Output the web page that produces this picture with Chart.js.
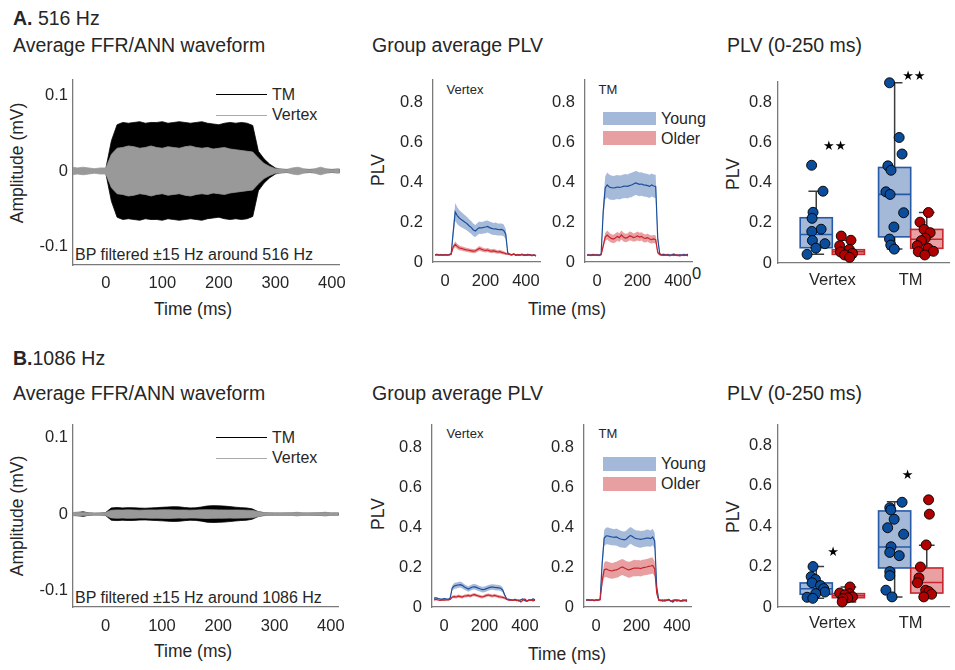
<!DOCTYPE html>
<html lang="en">
<head>
<meta charset="utf-8">
<title>FFR/ANN waveforms and phase-locking value</title>
<script src="https://cdn.jsdelivr.net/npm/chart.js@4.4.1/dist/chart.umd.min.js"></script>
<style>
  html, body { margin: 0; padding: 0; background: #fff; }
  body { position: relative; width: 955px; height: 670px; overflow: hidden;
         font-family: "Liberation Sans", Arial, sans-serif; color: #262626; }
  .txt { position: absolute; white-space: nowrap; line-height: 1; }
  .ctr { transform: translate(-50%, -50%); }
  .rot { transform: translate(-50%, -50%) rotate(-90deg); }
  .sw { position: absolute; }
  canvas { position: absolute; }
</style>
</head>
<body>
<!-- Row A: 516 Hz -->
<div class="txt" style="left:13px;top:9px;font-size:19.5px"><b>A.</b> 516 Hz</div>
<div class="txt" style="left:13px;top:36px;font-size:19.5px">Average FFR/ANN waveform</div>
<div class="txt" style="left:372px;top:36px;font-size:19.5px">Group average PLV</div>
<div class="txt" style="left:727px;top:36px;font-size:19.5px">PLV (0-250 ms)</div>
<div class="txt rot" style="left:18px;top:163px;font-size:17.5px">Amplitude (mV)</div>
<div class="txt ctr" style="left:193px;top:310px;font-size:17.5px">Time (ms)</div>
<div class="txt rot" style="left:379px;top:170px;font-size:17.5px">PLV</div>
<div class="txt ctr" style="left:567px;top:310px;font-size:17.5px">Time (ms)</div>
<div class="txt rot" style="left:734px;top:174px;font-size:17.5px">PLV</div>
<div class="txt ctr" style="left:465px;top:89px;font-size:13px">Vertex</div>
<div class="txt ctr" style="left:608px;top:89px;font-size:13px">TM</div>
<div class="txt" style="left:692px;top:265px;font-size:16.5px">0</div>
<div class="txt" style="left:75px;top:247px;font-size:16px">BP filtered ±15 Hz around 516 Hz</div>
<div class="sw" style="left:216px;top:94px;width:51px;height:1.4px;background:#000"></div>
<div class="txt" style="left:272px;top:87px;font-size:16px">TM</div>
<div class="sw" style="left:216px;top:114.5px;width:51px;height:1.2px;background:#aaa"></div>
<div class="txt" style="left:272px;top:107px;font-size:16px">Vertex</div>
<div class="sw" style="left:603px;top:112px;width:53px;height:13px;background:#a4b8d9"></div>
<div class="txt" style="left:661px;top:111px;font-size:16px">Young</div>
<div class="sw" style="left:603px;top:131px;width:53px;height:14px;background:#e89fa1"></div>
<div class="txt" style="left:661px;top:131px;font-size:16px">Older</div>

<!-- Row B: 1086 Hz -->
<div class="txt" style="left:13px;top:349px;font-size:19.5px"><b>B.</b>1086 Hz</div>
<div class="txt" style="left:13px;top:384px;font-size:19.5px">Average FFR/ANN waveform</div>
<div class="txt" style="left:372px;top:384px;font-size:19.5px">Group average PLV</div>
<div class="txt" style="left:727px;top:384px;font-size:19.5px">PLV (0-250 ms)</div>
<div class="txt rot" style="left:18px;top:516px;font-size:17.5px">Amplitude (mV)</div>
<div class="txt ctr" style="left:193px;top:652px;font-size:17.5px">Time (ms)</div>
<div class="txt rot" style="left:379px;top:514px;font-size:17.5px">PLV</div>
<div class="txt ctr" style="left:567px;top:655px;font-size:17.5px">Time (ms)</div>
<div class="txt rot" style="left:734px;top:517px;font-size:17.5px">PLV</div>
<div class="txt ctr" style="left:465px;top:433px;font-size:13px">Vertex</div>
<div class="txt ctr" style="left:608px;top:433px;font-size:13px">TM</div>
<div class="txt" style="left:75px;top:590px;font-size:16px">BP filtered ±15 Hz around 1086 Hz</div>
<div class="sw" style="left:216px;top:437px;width:51px;height:1.4px;background:#000"></div>
<div class="txt" style="left:272px;top:430px;font-size:16px">TM</div>
<div class="sw" style="left:216px;top:457.5px;width:51px;height:1.2px;background:#aaa"></div>
<div class="txt" style="left:272px;top:450px;font-size:16px">Vertex</div>
<div class="sw" style="left:603px;top:457px;width:53px;height:14px;background:#a4b8d9"></div>
<div class="txt" style="left:661px;top:456px;font-size:16px">Young</div>
<div class="sw" style="left:603px;top:477px;width:53px;height:14px;background:#e89fa1"></div>
<div class="txt" style="left:661px;top:476px;font-size:16px">Older</div>

<script>
// ---------- waveform envelopes (mV), sampled every 10 ms ----------
const waveTime = [-60,-50,-40,-30,-20,-10,0,10,20,30,40,50,60,70,80,90,100,110,120,130,140,150,160,170,180,190,200,210,220,230,240,250,260,270,280,290,300,310,320,330,340,350,360,370,380,390,400,410,420];
const tmEnvA = [0.002,0.002,0.002,0.002,0.002,0.002,0.003,0.040,0.061,
  0.064,0.063,0.064,0.065,0.063,0.064,0.064,0.065,0.063,0.064,0.065,0.064,0.063,0.064,0.065,0.063,0.062,0.061,0.063,0.064,0.063,0.064,0.063,
  0.060,0.026,0.016,0.009,0.004,
  0.002,0.002,0.002,0.002,0.002,0.002,0.002,0.002,0.002,0.002,0.002,0.002];
const vxEnvA = [0.005,0.004,0.005,0.004,0.003,0.004,0.004,0.022,0.030,
  0.031,0.033,0.032,0.030,0.031,0.033,0.031,0.030,0.032,0.031,0.030,0.032,0.033,0.031,0.030,0.031,0.029,0.030,0.031,0.029,0.028,0.027,0.026,
  0.025,0.017,0.010,0.006,0.003,
  0.003,0.002,0.004,0.005,0.003,0.002,0.003,0.005,0.003,0.002,0.003,0.002];
const tmEnvB = [0.001,0.002,0.003,0.0015,0.001,0.001,0.002,0.0080,0.0085,
  0.0080,0.0084,0.0082,0.0078,0.0076,0.0080,0.0084,0.0088,0.0092,0.0096,0.0094,0.0086,0.0080,0.0082,0.0092,0.0105,0.0110,0.0108,0.0104,0.0098,0.0090,0.0084,0.0080,
  0.0068,0.0035,0.0018,0.0013,0.0012,
  0.0012,0.0012,0.0013,0.0016,0.0012,0.0012,0.0013,0.0014,0.0018,0.0012,0.0012,0.0012];
const vxEnvB = [0.0018,0.0026,0.0022,0.0016,0.0014,0.0016,0.0020,0.0050,0.0054,
  0.0052,0.0055,0.0053,0.0051,0.0052,0.0054,0.0053,0.0055,0.0056,0.0054,0.0052,0.0053,0.0051,0.0052,0.0055,0.0056,0.0055,0.0054,0.0053,0.0052,0.0053,0.0052,0.0051,
  0.0048,0.0034,0.0022,0.0016,0.0015,
  0.0014,0.0016,0.0017,0.0024,0.0015,0.0013,0.0015,0.0017,0.0025,0.0015,0.0016,0.0014];

// ---------- group-average PLV traces (mean and s.e.m.), every 10 ms ----------
const plvTime = [-50,-40,-30,-20,-10,0,10,20,30,40,50,60,70,80,90,100,110,120,130,140,150,160,170,180,190,200,210,220,230,240,250,260,270,280,290,300,310,320,330,340,350,360,370,380,390,400,410,420,430,440,450];

const vxYoungPlvA = [0.036,0.038,0.035,0.037,0.034,0.036,0.035,0.037,0.040,
  0.150,0.250,0.232,0.220,0.212,0.205,0.198,0.190,0.180,0.172,0.160,0.155,0.165,0.172,0.170,0.173,0.175,0.178,0.172,0.168,0.165,0.166,0.163,0.162,0.163,0.158,0.140,
  0.045,0.038,0.036,0.040,0.035,0.037,0.034,0.038,0.036,0.033,0.038,0.035,0.032,0.036,0.030];
const vxYoungSemA = [0.004,0.004,0.004,0.004,0.004,0.004,0.004,0.004,0.005,
  0.030,0.045,0.042,0.040,0.038,0.036,0.035,0.034,0.033,0.032,0.031,0.030,0.030,0.031,0.030,0.030,0.031,0.030,0.030,0.031,0.030,0.031,0.030,0.030,0.030,0.029,0.025,
  0.006,0.004,0.004,0.004,0.004,0.004,0.004,0.004,0.004,0.004,0.004,0.004,0.004,0.004,0.004];
const vxOlderPlvA = [0.035,0.037,0.034,0.036,0.035,0.037,0.034,0.036,0.040,
  0.075,0.088,0.078,0.070,0.068,0.065,0.062,0.060,0.058,0.056,0.054,0.055,0.062,0.068,0.064,0.060,0.058,0.060,0.056,0.054,0.056,0.053,0.050,0.052,0.048,0.046,0.042,
  0.040,0.038,0.036,0.039,0.034,0.037,0.035,0.038,0.033,0.036,0.034,0.037,0.033,0.035,0.032];
const vxOlderSemA = [0.004,0.004,0.004,0.004,0.004,0.004,0.004,0.004,0.005,
  0.010,0.014,0.013,0.012,0.011,0.011,0.010,0.010,0.010,0.010,0.010,0.010,0.011,0.012,0.011,0.010,0.010,0.010,0.010,0.010,0.010,0.010,0.009,0.009,0.009,0.008,0.007,
  0.005,0.004,0.004,0.004,0.004,0.004,0.004,0.004,0.004,0.004,0.004,0.004,0.004,0.004,0.004];
const tmYoungPlvA = [0.035,0.036,0.034,0.037,0.035,0.036,0.034,0.040,0.250,0.370,
  0.385,0.375,0.372,0.370,0.372,0.375,0.373,0.375,0.378,0.380,0.378,0.382,0.385,0.390,0.395,0.392,0.388,0.390,0.386,0.384,0.382,0.378,0.385,0.380,0.378,
  0.120,
  0.040,0.036,0.038,0.035,0.037,0.034,0.036,0.039,0.035,0.033,0.036,0.034,0.037,0.035,0.038];
const tmYoungSemA = [0.005,0.005,0.005,0.005,0.005,0.005,0.005,0.005,0.040,0.058,
  0.062,0.062,0.061,0.060,0.060,0.060,0.060,0.059,0.059,0.060,0.060,0.060,0.061,0.060,0.060,0.060,0.059,0.059,0.058,0.058,0.058,0.058,0.058,0.058,0.058,
  0.020,
  0.006,0.005,0.005,0.005,0.005,0.005,0.005,0.005,0.005,0.005,0.005,0.005,0.005,0.005,0.005];
const tmOlderPlvA = [0.034,0.035,0.033,0.036,0.034,0.035,0.033,0.036,0.080,0.125,
  0.135,0.125,0.118,0.115,0.120,0.128,0.122,0.135,0.125,0.120,0.122,0.130,0.128,0.122,0.125,0.130,0.125,0.128,0.120,0.118,0.122,0.115,0.112,0.115,0.112,
  0.048,
  0.037,0.035,0.033,0.036,0.034,0.032,0.035,0.033,0.036,0.034,0.031,0.035,0.033,0.034,0.032];
const tmOlderSemA = [0.004,0.004,0.004,0.004,0.004,0.004,0.004,0.004,0.012,0.020,
  0.022,0.022,0.021,0.021,0.022,0.022,0.022,0.023,0.022,0.021,0.021,0.022,0.022,0.021,0.021,0.022,0.021,0.021,0.021,0.020,0.020,0.020,0.020,0.020,0.020,
  0.008,
  0.004,0.004,0.004,0.004,0.004,0.004,0.004,0.004,0.004,0.004,0.004,0.004,0.004,0.004,0.004];

const vxYoungPlvB = [0.044,0.046,0.042,0.040,0.038,0.042,0.040,0.038,0.045,
  0.095,0.105,0.108,0.110,0.112,0.108,0.100,0.095,0.090,0.095,0.100,0.101,0.098,0.094,0.090,0.087,0.088,0.092,0.096,0.099,0.100,0.098,0.097,0.096,0.094,0.085,0.060,
  0.040,0.038,0.036,0.034,0.038,0.035,0.030,0.036,0.040,0.032,0.030,0.036,0.034,0.040,0.036];
const vxYoungSemB = [0.004,0.004,0.004,0.004,0.004,0.004,0.004,0.004,0.004,
  0.012,0.015,0.015,0.015,0.015,0.015,0.014,0.014,0.014,0.014,0.014,0.014,0.014,0.014,0.014,0.014,0.014,0.014,0.014,0.014,0.014,0.014,0.014,0.014,0.014,0.013,0.008,
  0.004,0.004,0.004,0.004,0.004,0.004,0.004,0.004,0.004,0.004,0.004,0.004,0.004,0.004,0.004];
const vxOlderPlvB = [0.036,0.038,0.035,0.033,0.036,0.034,0.036,0.035,0.038,
  0.050,0.052,0.050,0.054,0.052,0.050,0.055,0.056,0.058,0.055,0.060,0.062,0.058,0.055,0.052,0.050,0.054,0.058,0.060,0.057,0.055,0.058,0.055,0.052,0.050,0.048,0.045,
  0.038,0.034,0.036,0.033,0.035,0.032,0.035,0.025,0.034,0.040,0.030,0.033,0.036,0.031,0.034];
const vxOlderSemB = [0.003,0.003,0.003,0.003,0.003,0.003,0.003,0.003,0.003,
  0.006,0.008,0.008,0.008,0.008,0.008,0.008,0.008,0.008,0.008,0.008,0.008,0.008,0.008,0.008,0.008,0.008,0.008,0.008,0.008,0.008,0.008,0.008,0.008,0.008,0.007,0.006,
  0.003,0.003,0.003,0.003,0.003,0.003,0.003,0.003,0.003,0.003,0.003,0.003,0.003,0.003,0.003];
const tmYoungPlvB = [0.034,0.036,0.033,0.035,0.032,0.036,0.034,0.040,0.220,0.345,
  0.356,0.355,0.352,0.350,0.348,0.350,0.345,0.340,0.338,0.336,0.340,0.350,0.358,0.352,0.345,0.342,0.340,0.338,0.340,0.342,0.345,0.344,0.342,0.350,0.330,
  0.100,
  0.036,0.034,0.030,0.035,0.033,0.038,0.030,0.025,0.034,0.036,0.032,0.030,0.035,0.033,0.036];
const tmYoungSemB = [0.004,0.004,0.004,0.004,0.004,0.004,0.004,0.004,0.030,0.040,
  0.042,0.042,0.042,0.041,0.041,0.042,0.042,0.042,0.041,0.041,0.042,0.042,0.042,0.042,0.041,0.041,0.042,0.042,0.041,0.041,0.042,0.042,0.041,0.041,0.040,
  0.015,
  0.004,0.004,0.004,0.004,0.004,0.004,0.004,0.004,0.004,0.004,0.004,0.004,0.004,0.004,0.004];
const tmOlderPlvB = [0.035,0.037,0.034,0.036,0.033,0.035,0.034,0.036,0.130,0.185,
  0.190,0.185,0.182,0.180,0.184,0.186,0.190,0.196,0.200,0.195,0.190,0.186,0.188,0.192,0.195,0.194,0.195,0.192,0.196,0.198,0.200,0.203,0.205,0.208,0.190,
  0.070,
  0.034,0.032,0.035,0.030,0.034,0.036,0.028,0.033,0.035,0.030,0.034,0.031,0.030,0.033,0.028];
const tmOlderSemB = [0.004,0.004,0.004,0.004,0.004,0.004,0.004,0.004,0.025,0.038,
  0.040,0.040,0.040,0.039,0.040,0.040,0.041,0.040,0.040,0.040,0.039,0.040,0.040,0.040,0.041,0.040,0.040,0.040,0.040,0.039,0.040,0.040,0.041,0.040,0.038,
  0.012,
  0.004,0.004,0.004,0.004,0.004,0.004,0.004,0.004,0.004,0.004,0.004,0.004,0.004,0.004,0.004];

// ---------- individual PLV (0-250 ms), jitter offsets, box stats [low, q1, median, q3, high] ----------
const vxYoungA = [0.486,0.357,0.252,0.222,0.168,0.157,0.112,0.096,0.074,0.043];
const vxYoungJitA = [-0.059,0.086,-0.041,-0.053,0.062,-0.057,-0.049,0.111,-0.004,-0.117];
const vxYoungBoxA = [0.043,0.076,0.142,0.225,0.357];
const vxOlderA = [0.134,0.113,0.086,0.067,0.055,0.048,0.040,0.028];
const vxOlderJitA = [-0.091,0.032,-0.111,0.012,-0.101,0.053,-0.049,0.016];
const vxOlderBoxA = [0.028,0.043,0.056,0.066,0.113];
const tmYoungA = [0.896,0.624,0.542,0.483,0.461,0.354,0.341,0.250,0.179,0.119,0.089,0.069];
const tmYoungJitA = [-0.065,0.058,0.095,-0.086,-0.046,-0.111,-0.058,0.115,-0.009,-0.065,-0.049,-0.004];
const tmYoungBoxA = [0.069,0.130,0.341,0.475,0.896];
const tmOlderA = [0.251,0.203,0.167,0.151,0.123,0.111,0.086,0.073,0.056,0.058,0.040];
const tmOlderJitA = [0.021,-0.086,-0.034,0.043,-0.018,-0.069,-0.121,0.018,-0.108,0.085,-0.025];
const tmOlderBoxA = [0.040,0.073,0.118,0.167,0.251];

const vxYoungB = [0.200,0.150,0.136,0.120,0.106,0.091,0.074,0.066,0.048,0.043];
const vxYoungJitB = [-0.041,-0.065,-0.010,-0.053,0.054,0.095,0.111,-0.007,-0.117,-0.044];
const vxYoungBoxB = [0.043,0.063,0.090,0.119,0.200];
const vxOlderB = [0.099,0.069,0.066,0.060,0.050,0.045,0.041,0.025];
const vxOlderJitB = [0.020,-0.111,0.012,-0.046,0.053,-0.009,-0.070,-0.079];
const vxOlderBoxB = [0.025,0.046,0.056,0.066,0.099];
const tmYoungB = [0.518,0.491,0.480,0.434,0.392,0.360,0.298,0.270,0.254,0.175,0.155,0.083,0.050];
const tmYoungJitB = [0.095,-0.062,-0.049,-0.006,-0.089,0.115,-0.046,-0.062,0.059,-0.062,-0.062,-0.111,-0.033];
const tmYoungBoxB = [0.050,0.193,0.297,0.475,0.520];
const tmOlderB = [0.530,0.459,0.307,0.198,0.144,0.120,0.083,0.076,0.063,0.050];
const tmOlderJitB = [0.023,0.033,-0.007,-0.081,-0.100,-0.118,-0.014,0.027,0.062,-0.038];
const tmOlderBoxB = [0.050,0.069,0.121,0.193,0.305];

// significance markers: [category, height]
const sigTextA = ['★★','★★'];
const sigPosA = [[1.03,0.577],[2.04,0.925]];
const sigTextB = ['★','★'];
const sigPosB = [[1.01,0.268],[1.96,0.650]];

// ---------- tick labels ----------
const ampTicks = [-0.1,0,0.1];
const ampTickLabels = ['-0.1','0','0.1'];
const waveTimeTicks = [0,100,200,300,400];
const waveTimeLabels = ['0','100','200','300','400'];
const plvTicks = [0,0.2,0.4,0.6,0.8];
const plvTickLabels = ['0','0.2','0.4','0.6','0.8'];
const plvTimeTicks = [0,200,400];
const plvTimeLabels = ['0','200','400'];
const siteTicks = [1,2];
const siteLabels = ['Vertex','TM'];

// ---------- styling ----------
const AXIS_COLOR = '#7a7a7a';
const TICK_COLOR = '#262626';
const TICK_SIZE = 16.5;
const BLUE_LINE = '#1b4f9c', BLUE_BAND = 'rgba(112,144,196,0.62)';
const RED_LINE = '#c8232b', RED_BAND = 'rgba(214,80,86,0.55)';
const BOX_YOUNG = {fill: '#a4b8d8', stroke: '#2659a6', dot: '#0b4d9b'};
const BOX_OLDER = {fill: '#e8a0a2', stroke: '#c8262d', dot: '#b10000'};
const GROUP_OFFSET = 0.205, BOX_W = 0.41, CAP_W = 0.2;

Chart.defaults.font.family = '"Liberation Sans", Arial, sans-serif';
Chart.defaults.color = TICK_COLOR;
Chart.defaults.elements.point.radius = 0;
Chart.defaults.elements.line.tension = 0;

function addCanvas(area, pad) {
  const c = document.createElement('canvas');
  const w = area.r - area.l + pad.l + pad.r;
  const h = area.b - area.t + pad.t + pad.b;
  c.width = w; c.height = h;
  c.style.width = w + 'px'; c.style.height = h + 'px';
  c.style.left = (area.l - pad.l) + 'px';
  c.style.top = (area.t - pad.t) + 'px';
  document.body.appendChild(c);
  return c;
}

function axis(which, s, size) {
  return {
    type: 'linear',
    position: which === 'x' ? 'bottom' : 'left',
    min: s.min, max: s.max,
    grid: {display: false, drawTicks: false},
    border: {display: true, color: AXIS_COLOR, width: 1.3},
    ticks: {padding: s.pad, font: {size: TICK_SIZE}, color: TICK_COLOR, autoSkip: false,
            maxRotation: 0, callback: (v, i) => s.labels[i]},
    afterBuildTicks: sc => { sc.ticks = s.values.map(value => ({value})); },
    afterFit: sc => { if (which === 'x') sc.height = size; else sc.width = size; }
  };
}

function makeChart(area, pad, type, datasets, sx, sy, plugins) {
  return new Chart(addCanvas(area, pad), {
    type,
    data: {datasets},
    options: {
      responsive: false, animation: false, devicePixelRatio: 1, events: [],
      layout: {padding: {top: pad.t, right: pad.r, left: 0, bottom: 0}},
      plugins: {legend: {display: false}, tooltip: {enabled: false}},
      scales: {x: axis('x', sx, pad.b), y: axis('y', sy, pad.l)}
    },
    plugins: plugins || []
  });
}

// ---------- waveform panels ----------
function envelope(t, amp, color, order) {
  return [
    {data: t.map((x, i) => ({x, y: amp[i]})), fill: '+1', backgroundColor: color,
     borderColor: color, borderWidth: 0.8, order},
    {data: t.map((x, i) => ({x, y: -amp[i]})), fill: false,
     borderColor: color, borderWidth: 0.8, order}
  ];
}
function waveform(area, tmEnv, vxEnv, yMin, yMax, xPad) {
  makeChart(area, {l: 73, t: 20, r: 12, b: 32}, 'line',
    [...envelope(waveTime, vxEnv, '#999999', 0), ...envelope(waveTime, tmEnv, '#000000', 1)],
    {min: -58, max: 414, values: waveTimeTicks, labels: waveTimeLabels, pad: xPad},
    {min: yMin, max: yMax, values: ampTicks, labels: ampTickLabels, pad: 5});
}
waveform({l: 73, t: 80, r: 343, b: 265}, tmEnvA, vxEnvA, -0.124, 0.12, 9);
waveform({l: 73, t: 425, r: 343, b: 607}, tmEnvB, vxEnvB, -0.121, 0.116, 10);

// ---------- group-average PLV panels ----------
function plvSets(yMean, ySem, oMean, oSem) {
  const pts = (m, s, k) => plvTime.map((x, i) => ({x, y: m[i] + k * (s ? s[i] : 0)}));
  return [
    {data: pts(oMean, null, 0), borderColor: RED_LINE, borderWidth: 1.2, fill: false, order: 0},
    {data: pts(yMean, null, 0), borderColor: BLUE_LINE, borderWidth: 1.2, fill: false, order: 0},
    {data: pts(oMean, oSem, 1), borderWidth: 0, fill: '+1', backgroundColor: RED_BAND, order: 1},
    {data: pts(oMean, oSem, -1), borderWidth: 0, fill: false, order: 1},
    {data: pts(yMean, ySem, 1), borderWidth: 0, fill: '+1', backgroundColor: BLUE_BAND, order: 1},
    {data: pts(yMean, ySem, -1), borderWidth: 0, fill: false, order: 1}
  ];
}
function plvPanel(area, sets, xPad) {
  makeChart(area, {l: 45, t: 20, r: 10, b: 32}, 'line', sets,
    {min: -60, max: 470, values: plvTimeTicks, labels: plvTimeLabels, pad: xPad},
    {min: 0, max: 0.91, values: plvTicks, labels: plvTickLabels, pad: 10});
}
plvPanel({l: 433, t: 80, r: 541, b: 262}, plvSets(vxYoungPlvA, vxYoungSemA, vxOlderPlvA, vxOlderSemA), 10);
plvPanel({l: 585, t: 80, r: 693, b: 262}, plvSets(tmYoungPlvA, tmYoungSemA, tmOlderPlvA, tmOlderSemA), 10);
plvPanel({l: 432, t: 425, r: 540, b: 607}, plvSets(vxYoungPlvB, vxYoungSemB, vxOlderPlvB, vxOlderSemB), 10);
plvPanel({l: 584, t: 425, r: 692, b: 607}, plvSets(tmYoungPlvB, tmYoungSemB, tmOlderPlvB, tmOlderSemB), 10);

// ---------- PLV (0-250 ms) box plots ----------
function boxPlugin(boxes, sigText, sigPos) {
  return {
    id: 'boxPlot',
    beforeDatasetsDraw(chart) {
      const {ctx, scales: {x, y}} = chart;
      ctx.save();
      for (const b of boxes) {
        const [lo, q1, med, q3, hi] = b.stats;
        const xc = x.getPixelForValue(b.pos);
        const half = x.getPixelForValue(b.pos + BOX_W / 2) - xc;
        const cap = x.getPixelForValue(b.pos + CAP_W / 2) - xc;
        const p = v => y.getPixelForValue(v);
        ctx.strokeStyle = '#3c3c3c';
        ctx.lineWidth = 1.5;
        ctx.beginPath();
        ctx.moveTo(xc, p(q3)); ctx.lineTo(xc, p(hi));
        ctx.moveTo(xc - cap, p(hi)); ctx.lineTo(xc + cap, p(hi));
        ctx.moveTo(xc, p(q1)); ctx.lineTo(xc, p(lo));
        ctx.moveTo(xc - cap, p(lo)); ctx.lineTo(xc + cap, p(lo));
        ctx.stroke();
        ctx.fillStyle = b.style.fill;
        ctx.fillRect(xc - half, p(q3), 2 * half, p(q1) - p(q3));
        ctx.strokeStyle = b.style.stroke;
        ctx.lineWidth = 1.6;
        ctx.strokeRect(xc - half, p(q3), 2 * half, p(q1) - p(q3));
        ctx.beginPath();
        ctx.moveTo(xc - half, p(med)); ctx.lineTo(xc + half, p(med));
        ctx.stroke();
      }
      ctx.restore();
    },
    afterDatasetsDraw(chart) {
      const {ctx, scales: {x, y}} = chart;
      ctx.save();
      ctx.fillStyle = '#000';
      ctx.font = '13px "DejaVu Sans"';
      ctx.textAlign = 'center';
      ctx.textBaseline = 'middle';
      sigText.forEach((s, i) => {
        ctx.fillText(s, x.getPixelForValue(sigPos[i][0]), y.getPixelForValue(sigPos[i][1]));
      });
      ctx.restore();
    }
  };
}
function dotSet(center, vals, jit, color) {
  return {data: vals.map((v, i) => ({x: center + jit[i], y: v})), pointRadius: 5,
          backgroundColor: color, borderColor: '#000', borderWidth: 0.9, clip: false};
}
function boxPanel(area, g, sigText, sigPos, xPad) {
  const cx = [1 - GROUP_OFFSET, 1 + GROUP_OFFSET, 2 - GROUP_OFFSET, 2 + GROUP_OFFSET];
  const boxes = [
    {pos: cx[0], stats: g[0][2], style: BOX_YOUNG},
    {pos: cx[1], stats: g[1][2], style: BOX_OLDER},
    {pos: cx[2], stats: g[2][2], style: BOX_YOUNG},
    {pos: cx[3], stats: g[3][2], style: BOX_OLDER}
  ];
  const sets = [
    dotSet(cx[1], g[1][0], g[1][1], BOX_OLDER.dot),
    dotSet(cx[3], g[3][0], g[3][1], BOX_OLDER.dot),
    dotSet(cx[0], g[0][0], g[0][1], BOX_YOUNG.dot),
    dotSet(cx[2], g[2][0], g[2][1], BOX_YOUNG.dot)
  ];
  makeChart(area, {l: 50, t: 20, r: 0, b: 32}, 'scatter', sets,
    {min: 0.307, max: 2.49, values: siteTicks, labels: siteLabels, pad: xPad},
    {min: 0, max: 0.9, values: plvTicks, labels: plvTickLabels, pad: 6},
    [boxPlugin(boxes, sigText, sigPos)]);
}
boxPanel({l: 778, t: 82, r: 955, b: 263},
  [[vxYoungA, vxYoungJitA, vxYoungBoxA], [vxOlderA, vxOlderJitA, vxOlderBoxA],
   [tmYoungA, tmYoungJitA, tmYoungBoxA], [tmOlderA, tmOlderJitA, tmOlderBoxA]],
  sigTextA, sigPosA, 8);
boxPanel({l: 778, t: 425, r: 955, b: 607},
  [[vxYoungB, vxYoungJitB, vxYoungBoxB], [vxOlderB, vxOlderJitB, vxOlderBoxB],
   [tmYoungB, tmYoungJitB, tmYoungBoxB], [tmOlderB, tmOlderJitB, tmOlderBoxB]],
  sigTextB, sigPosB, 7);
</script>
</body>
</html>
